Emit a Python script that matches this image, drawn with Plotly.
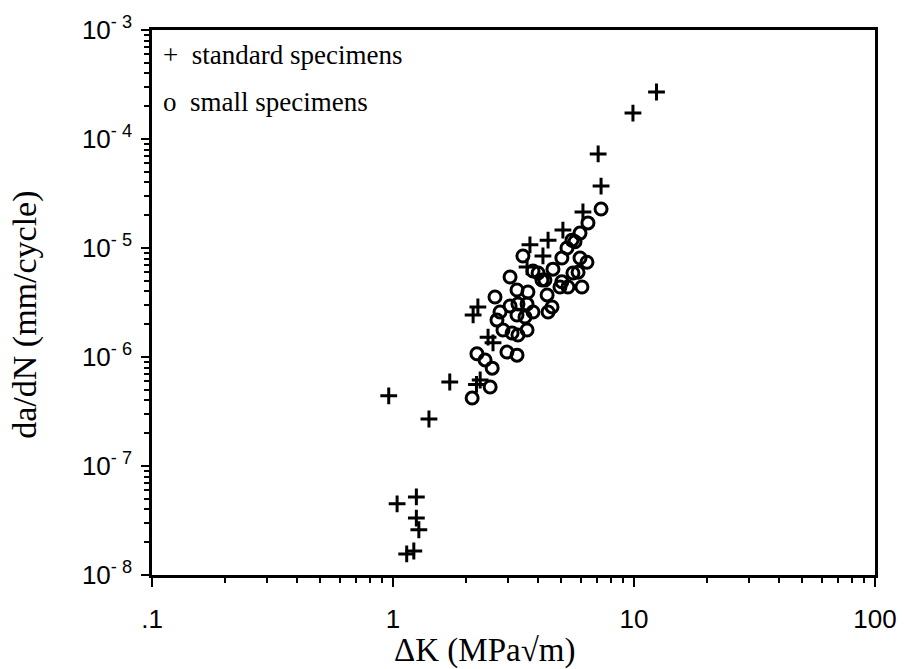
import plotly.graph_objects as go

# Standard specimens (+)
std_dk = [12.4, 9.9, 7.1, 7.3, 6.14, 5.07, 4.40, 3.70, 4.19, 3.60, 2.25, 2.15,
          2.48, 2.60, 2.30, 2.22, 1.72, 1.41, 0.96,
          1.04, 1.25, 1.25, 1.28, 1.14, 1.22]
std_dadn = [2.7e-4, 1.73e-4, 7.3e-5, 3.7e-5, 2.14e-5, 1.46e-5, 1.18e-5, 1.07e-5, 8.45e-6, 6.7e-6, 2.88e-6, 2.43e-6,
            1.52e-6, 1.35e-6, 6.15e-7, 5.6e-7, 5.9e-7, 2.7e-7, 4.4e-7,
            4.5e-8, 5.2e-8, 3.33e-8, 2.6e-8, 1.56e-8, 1.66e-8]

# Small specimens (o)
small_dk = [7.30, 6.44, 5.97, 5.69, 5.27, 5.02, 5.97, 6.38, 3.46, 3.81, 4.61, 4.15,
            3.06, 3.27, 3.63, 4.36, 4.93, 5.32, 6.08, 5.58, 5.86, 2.65, 2.78, 3.06,
            3.30, 3.60, 3.81, 4.40, 4.57, 3.53, 3.27, 2.70, 2.86, 3.12, 3.30, 3.60,
            2.97, 3.27, 2.23, 2.41, 2.58, 2.53, 2.13, 5.53, 4.00, 5.02, 4.27]
small_dadn = [2.28e-5, 1.70e-5, 1.37e-5, 1.14e-5, 1.0e-5, 8.1e-6, 8.1e-6, 7.4e-6, 8.45e-6, 6.15e-6, 6.4e-6, 5.08e-6,
              5.42e-6, 4.12e-6, 3.95e-6, 3.71e-6, 4.39e-6, 4.39e-6, 4.39e-6, 5.9e-6, 6.0e-6, 3.55e-6, 2.59e-6, 2.94e-6,
              3.06e-6, 3.06e-6, 2.59e-6, 2.59e-6, 2.88e-6, 2.33e-6, 2.43e-6, 2.18e-6, 1.77e-6, 1.66e-6, 1.59e-6, 1.77e-6,
              1.11e-6, 1.04e-6, 1.07e-6, 9.4e-7, 7.9e-7, 5.3e-7, 4.2e-7, 1.18e-5, 5.9e-6, 4.9e-6, 5.08e-6]

x_tickvals = [0.1, 1, 10, 100]
x_ticktext = [".1", "1", "10", "100"]
y_exps = [-8, -7, -6, -5, -4, -3]

y_tickvals = [10.0 ** e for e in y_exps]
y_ticktext = ["10<sup>- %d</sup>" % (-e) for e in y_exps]

x_minor = [m * 10.0 ** d for d in (-1, 0, 1) for m in range(2, 10)]
y_minor = [m * 10.0 ** d for d in range(-8, -3) for m in range(2, 10)]

fig = go.Figure()
fig.add_trace(go.Scatter(
    x=std_dk, y=std_dadn, mode="markers",
    marker=dict(symbol="cross-thin", size=12, color="black",
                line=dict(width=3, color="black")),
    showlegend=False))
fig.add_trace(go.Scatter(
    x=small_dk, y=small_dadn, mode="markers",
    marker=dict(symbol="circle-open", size=12, color="black",
                line=dict(width=3, color="black")),
    showlegend=False))

serif = "Liberation Serif, Times New Roman, serif"
sans = "Liberation Sans, Arial, sans-serif"

fig.add_annotation(x=0.012, y=0.954, xref="paper", yref="paper", xanchor="left", yanchor="middle",
                   text="+  standard specimens", showarrow=False,
                   font=dict(family=serif, size=27, color="black"))
fig.add_annotation(x=0.012, y=0.868, xref="paper", yref="paper", xanchor="left", yanchor="middle",
                   text="o  small specimens", showarrow=False,
                   font=dict(family=serif, size=27, color="black"))

# Axis titles
fig.add_annotation(x=0.46, y=-0.138, xref="paper", yref="paper", xanchor="center", yanchor="middle",
                   text="ΔK (MPa√m)", showarrow=False,
                   font=dict(family=serif, size=33, color="black"))
fig.add_annotation(x=-0.176, y=0.477, xref="paper", yref="paper", xanchor="center", yanchor="middle",
                   text="da/dN (mm/cycle)", showarrow=False, textangle=-90,
                   font=dict(family=serif, size=34, color="black"))

fig.update_xaxes(type="log", range=[-1, 2], automargin=False,
                 tickmode="array", tickvals=x_tickvals, ticktext=x_ticktext,
                 ticks="outside", ticklen=9, tickwidth=2, tickcolor="black",
                 ticklabelstandoff=10,
                 minor=dict(tickmode="array", tickvals=x_minor, ticks="outside",
                            ticklen=5, tickwidth=2, tickcolor="black"),
                 showline=True, linewidth=2.5, linecolor="black", mirror=True,
                 showgrid=False, zeroline=False,
                 tickfont=dict(family=sans, size=26, color="black"))
fig.update_yaxes(type="log", range=[-8, -3], automargin=False,
                 tickmode="array", tickvals=y_tickvals, ticktext=y_ticktext,
                 ticks="outside", ticklen=8, tickwidth=2, tickcolor="black",
                 ticklabelstandoff=4,
                 minor=dict(tickmode="array", tickvals=y_minor, ticks="outside",
                            ticklen=5, tickwidth=2, tickcolor="black"),
                 showline=True, linewidth=2.5, linecolor="black", mirror=True,
                 showgrid=False, zeroline=False,
                 tickfont=dict(family=sans, size=26, color="black"))

fig.update_layout(width=904, height=669,
                  margin=dict(l=152, r=29, t=30, b=94),
                  paper_bgcolor="white", plot_bgcolor="white",
                  showlegend=False)

fig.write_html("out.html")
